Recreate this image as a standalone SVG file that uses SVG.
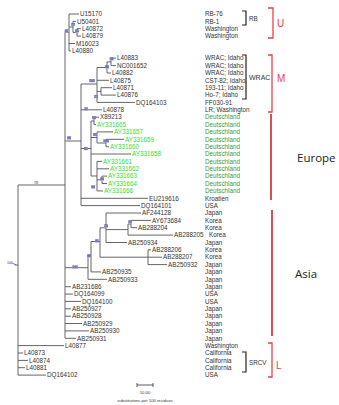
<svg xmlns="http://www.w3.org/2000/svg" width="339" height="405" viewBox="0 0 339 405">
<style>
.t{font-family:"Liberation Sans",Arial,sans-serif;font-size:6.3px;fill:#333}
.g{fill:#33e033}
.dg{fill:#3a9a3a}
.br{fill:none;stroke:#222;stroke-width:1.2}
.rb{fill:none;stroke:#e8404a;stroke-width:1.3}
.rl{fill:none;stroke:#c8161d;stroke-width:1.5}
.rt{font-family:"Liberation Sans",Arial,sans-serif;font-size:10px;fill:#e8404a}
.big{font-family:"Open Sans","Liberation Sans",sans-serif;font-size:11.5px;fill:#222}
.bs rect{fill:#a9a9dc}
.bs text{font-family:"Liberation Sans",Arial,sans-serif;font-size:3.2px;fill:#1a1a7a;text-anchor:middle}
.s{font-family:"Liberation Sans",Arial,sans-serif;font-size:4.2px;fill:#333;text-anchor:middle}
</style>
<rect width="339" height="405" fill="#fff"/>
<g id="connectors" fill="none" stroke="#555" stroke-width="0.9">
<path d="M18,185V375.1M15,265H18M18,185H65M18,345.6H64M18,353H23M18,360.4H28M18,367.7H25M18,375.1H46"/>
<path d="M65,32.4V338.3M65,32.4H69M69,14V50.9M69,14H79M69,27H73M73,21.4V32.4M73,21.4H76M73,32.4H77M77,28.7V36.1M77,28.7H81M77,36.1H81M69,43.5H75M69,50.9H71"/>
<path d="M65,141H81M81,84V205.6M81,84H97M97,67.5V102.4M97,67.5H107M107,61.9V73M107,61.9H111M111,58.2V65.6M111,58.2H116M111,65.6H116M107,73H111M97,80.3H109M97,91.4H101M101,87.7V95.1M101,87.7H112M101,95.1H116M97,102.4H135M81,109.8H102"/>
<path d="M81,148.5H91M91,121V176M91,121H94M94,117.2V124.6M94,117.2H99M94,124.6H96M91,137.5H97M97,131.9V143M97,131.9H113M97,143H106M106,139.3V146.7M106,139.3H124M106,146.7H109M91,154H131M91,176H97M97,161.4V190.9M97,161.4H102M97,168.8H109M97,179.8H102M102,176.1V183.5M102,176.1H107M102,183.5H107M97,190.9H103M81,198.3H148M81,205.6H140"/>
<path d="M65,267.7H88M88,256.5V279.3M88,256.5H91M91,241.5V271.9M91,271.9H101M88,279.3H107M91,241.5H100M100,227.8V257.2M100,227.8H106M106,213V242.5M106,213H141M106,229.6H128M128,224V235.1M128,224H131M131,220.4V227.7M131,220.4H151M131,227.7H137M128,235.1H173M106,242.5H127M100,257.2H162M148,249.8V264.6M148,249.8H151M148,264.6H167"/>
<path d="M65,286.7H71M65,294.1H73M65,301.4H81M65,308.8H71M65,316.2H71M65,323.5H82M65,330.9H89M65,338.3H76"/>
</g>
<g id="bootstrap" class="bs">
<rect x="64.5" y="29.5" width="4" height="3.2"/><text x="66.5" y="32.1">32</text>
<rect x="71" y="23" width="4" height="3.2"/><text x="73" y="25.6">77</text>
<rect x="75" y="29.5" width="4" height="3.2"/><text x="77" y="32.1">65</text>
<rect x="89" y="79" width="6" height="3.2"/><text x="92" y="81.6">100</text>
<rect x="109.5" y="57.5" width="4" height="3.2"/><text x="111.5" y="60.1">98</text>
<rect x="105" y="65.5" width="4" height="3.2"/><text x="107" y="68.1">86</text>
<rect x="94" y="95" width="4" height="3.2"/><text x="96" y="97.6">23</text>
<rect x="84" y="107.5" width="4" height="3.2"/><text x="86" y="110.1">22</text>
<rect x="67" y="136.5" width="4" height="3.2"/><text x="69" y="139.1">98</text>
<rect x="84" y="147" width="4" height="3.2"/><text x="86" y="149.6">61</text>
<rect x="92" y="116" width="4" height="3.2"/><text x="94" y="118.6">94</text>
<rect x="93" y="133" width="4" height="3.2"/><text x="95" y="135.6">95</text>
<rect x="103" y="139.5" width="6" height="3.2"/><text x="106" y="142.1">100</text>
<rect x="91" y="185.5" width="4" height="3.2"/><text x="93" y="188.1">94</text>
<rect x="100" y="177.5" width="4" height="3.2"/><text x="102" y="180.1">94</text>
<rect x="72" y="265.5" width="6" height="3.2"/><text x="75" y="268.1">100</text>
<rect x="87" y="254.5" width="4" height="3.2"/><text x="89" y="257.1">88</text>
<rect x="95" y="239.5" width="4" height="3.2"/><text x="97" y="242.1">81</text>
<rect x="104" y="224.5" width="4" height="3.2"/><text x="106" y="227.1">26</text>
<rect x="128" y="220.5" width="4" height="3.2"/><text x="130" y="223.1">70</text>
</g>
<text x="36" y="184" font-family="Liberation Sans,sans-serif" font-size="3.6" fill="#1a1a7a" text-anchor="middle">78</text>
<text x="10" y="264" font-family="Liberation Sans,sans-serif" font-size="3.6" fill="#1a1a7a" text-anchor="middle">100</text>
<path d="M13,263.5L16,265" stroke="#3a5ad8" stroke-width="0.8"/>
<g id="n-U15170"><text class="t" x="80" y="16.2">U15170</text><text class="t" x="205" y="16.2">RB-76</text></g>
<g id="n-U50401"><text class="t" x="77" y="23.6">U50401</text><text class="t" x="205" y="23.6">RB-1</text></g>
<g id="n-L40872"><text class="t" x="82" y="30.9">L40872</text><text class="t" x="205" y="30.9">Washington</text></g>
<g id="n-L40879"><text class="t" x="82" y="38.3">L40879</text><text class="t" x="205" y="38.3">Washington</text></g>
<g id="n-M16023"><text class="t" x="76" y="45.7">M16023</text></g>
<g id="n-L40880"><text class="t" x="72" y="53.1">L40880</text></g>
<g id="n-L40883"><text class="t" x="117" y="60.4">L40883</text><text class="t" x="205" y="60.4">WRAC; Idaho</text></g>
<g id="n-NC001652"><text class="t" x="117" y="67.8">NC001652</text><text class="t" x="205" y="67.8">WRAC; Idaho</text></g>
<g id="n-L40882"><text class="t" x="112" y="75.2">L40882</text><text class="t" x="205" y="75.2">WRAC; Idaho</text></g>
<g id="n-L40875"><text class="t" x="110" y="82.5">L40875</text><text class="t" x="205" y="82.5">CST-82; Idaho</text></g>
<g id="n-L40871"><text class="t" x="113" y="89.9">L40871</text><text class="t" x="205" y="89.9">193-11; Idaho</text></g>
<g id="n-L40876"><text class="t" x="117" y="97.3">L40876</text><text class="t" x="205" y="97.3">Ho-7; Idaho</text></g>
<g id="n-DQ164103"><text class="t" x="136" y="104.6">DQ164103</text><text class="t" x="205" y="104.6">FF030-91</text></g>
<g id="n-L40878"><text class="t" x="103" y="112">L40878</text><text class="t" x="205" y="112">LR; Washington</text></g>
<g id="n-X89213"><text class="t" x="100" y="119.4">X89213</text><text class="t dg" x="205" y="119.4">Deutschland</text></g>
<g id="n-AY331665"><text class="t g" x="97" y="126.8">AY331665</text><text class="t dg" x="205" y="126.8">Deutschland</text></g>
<g id="n-AY331657"><text class="t g" x="114" y="134.1">AY331657</text><text class="t dg" x="205" y="134.1">Deutschland</text></g>
<g id="n-AY331659"><text class="t g" x="125" y="141.5">AY331659</text><text class="t dg" x="205" y="141.5">Deutschland</text></g>
<g id="n-AY331660"><text class="t g" x="110" y="148.9">AY331660</text><text class="t dg" x="205" y="148.9">Deutschland</text></g>
<g id="n-AY331658"><text class="t g" x="132" y="156.2">AY331658</text><text class="t dg" x="205" y="156.2">Deutschland</text></g>
<g id="n-AY331661"><text class="t g" x="103" y="163.6">AY331661</text><text class="t dg" x="205" y="163.6">Deutschland</text></g>
<g id="n-AY331662"><text class="t g" x="110" y="171">AY331662</text><text class="t dg" x="205" y="171">Deutschland</text></g>
<g id="n-AY331663"><text class="t g" x="108" y="178.3">AY331663</text><text class="t dg" x="205" y="178.3">Deutschland</text></g>
<g id="n-AY331664"><text class="t g" x="108" y="185.7">AY331664</text><text class="t dg" x="205" y="185.7">Deutschland</text></g>
<g id="n-AY331666"><text class="t g" x="104" y="193.1">AY331666</text><text class="t dg" x="205" y="193.1">Deutschland</text></g>
<g id="n-EU219616"><text class="t" x="149" y="200.5">EU219616</text><text class="t" x="205" y="200.5">Kroatien</text></g>
<g id="n-DQ164101"><text class="t" x="141" y="207.8">DQ164101</text><text class="t" x="205" y="207.8">USA</text></g>
<g id="n-AF244128"><text class="t" x="142" y="215.2">AF244128</text><text class="t" x="205" y="215.2">Japan</text></g>
<g id="n-AY673684"><text class="t" x="152" y="222.6">AY673684</text><text class="t" x="205" y="222.6">Korea</text></g>
<g id="n-AB288204"><text class="t" x="138" y="229.9">AB288204</text><text class="t" x="205" y="229.9">Korea</text></g>
<g id="n-AB288205"><text class="t" x="174" y="237.3">AB288205</text><text class="t" x="209" y="237.3">Korea</text></g>
<g id="n-AB250934"><text class="t" x="128" y="244.7">AB250934</text><text class="t" x="205" y="244.7">Japan</text></g>
<g id="n-AB288206"><text class="t" x="152" y="252">AB288206</text><text class="t" x="205" y="252">Korea</text></g>
<g id="n-AB288207"><text class="t" x="163" y="259.4">AB288207</text><text class="t" x="205" y="259.4">Korea</text></g>
<g id="n-AB250932"><text class="t" x="168" y="266.8">AB250932</text><text class="t" x="205" y="266.8">Japan</text></g>
<g id="n-AB250935"><text class="t" x="102" y="274.1">AB250935</text><text class="t" x="205" y="274.1">Japan</text></g>
<g id="n-AB250933"><text class="t" x="108" y="281.5">AB250933</text><text class="t" x="205" y="281.5">Japan</text></g>
<g id="n-AB231686"><text class="t" x="72" y="288.9">AB231686</text><text class="t" x="205" y="288.9">Japan</text></g>
<g id="n-DQ164099"><text class="t" x="74" y="296.3">DQ164099</text><text class="t" x="205" y="296.3">USA</text></g>
<g id="n-DQ164100"><text class="t" x="82" y="303.6">DQ164100</text><text class="t" x="205" y="303.6">USA</text></g>
<g id="n-AB250927"><text class="t" x="72" y="311">AB250927</text><text class="t" x="205" y="311">Japan</text></g>
<g id="n-AB250928"><text class="t" x="72" y="318.4">AB250928</text><text class="t" x="205" y="318.4">Japan</text></g>
<g id="n-AB250929"><text class="t" x="83" y="325.7">AB250929</text><text class="t" x="205" y="325.7">Japan</text></g>
<g id="n-AB250930"><text class="t" x="90" y="333.1">AB250930</text><text class="t" x="205" y="333.1">Japan</text></g>
<g id="n-AB250931"><text class="t" x="77" y="340.5">AB250931</text><text class="t" x="205" y="340.5">Japan</text></g>
<g id="n-L40877"><text class="t" x="65" y="347.8">L40877</text><text class="t" x="205" y="347.8">Washington</text></g>
<g id="n-L40873"><text class="t" x="24" y="355.2">L40873</text><text class="t" x="205" y="355.2">California</text></g>
<g id="n-L40874"><text class="t" x="29" y="362.6">L40874</text><text class="t" x="205" y="362.6">California</text></g>
<g id="n-L40881"><text class="t" x="26" y="369.9">L40881</text><text class="t" x="205" y="369.9">California</text></g>
<g id="n-DQ164102"><text class="t" x="47" y="377.3">DQ164102</text><text class="t" x="205" y="377.3">USA</text></g>
<g id="group-RB"><path class="br" d="M242,11H246V25H242"/><text class="t" x="249" y="20.5">RB</text></g>
<g id="group-U"><path class="rb" d="M268,8H273V38H268"/><text class="rt" x="277" y="26.5">U</text></g>
<g id="group-WRAC"><path class="br" d="M242,55H246V99H242"/><text class="t" x="249" y="79.5" style="font-size:7px">WRAC</text></g>
<g id="group-M"><path class="rb" d="M268,55H272V112H268"/><text class="rt" x="277" y="81.5">M</text></g>
<g id="group-Europe"><path class="rl" d="M271,114V200"/><text class="big" x="297" y="162">Europe</text></g>
<g id="group-Asia"><path class="rl" d="M272,210V336"/><text class="big" x="295" y="278">Asia</text></g>
<g id="group-SRCV"><path class="br" d="M242,352H246V372H242"/><text class="t" x="249" y="364.5">SRCV</text></g>
<g id="group-L"><path class="rb" d="M268,343H272V377H268"/><text class="rt" x="276" y="369">L</text></g>
<g id="scale"><path d="M137,385H153M137,383V387M153,383V387" stroke="#333" stroke-width="0.8" fill="none"/><text class="s" x="145" y="394">10.00</text><text class="s" x="145" y="401.5">substitutions per 100 residues</text></g>
</svg>
